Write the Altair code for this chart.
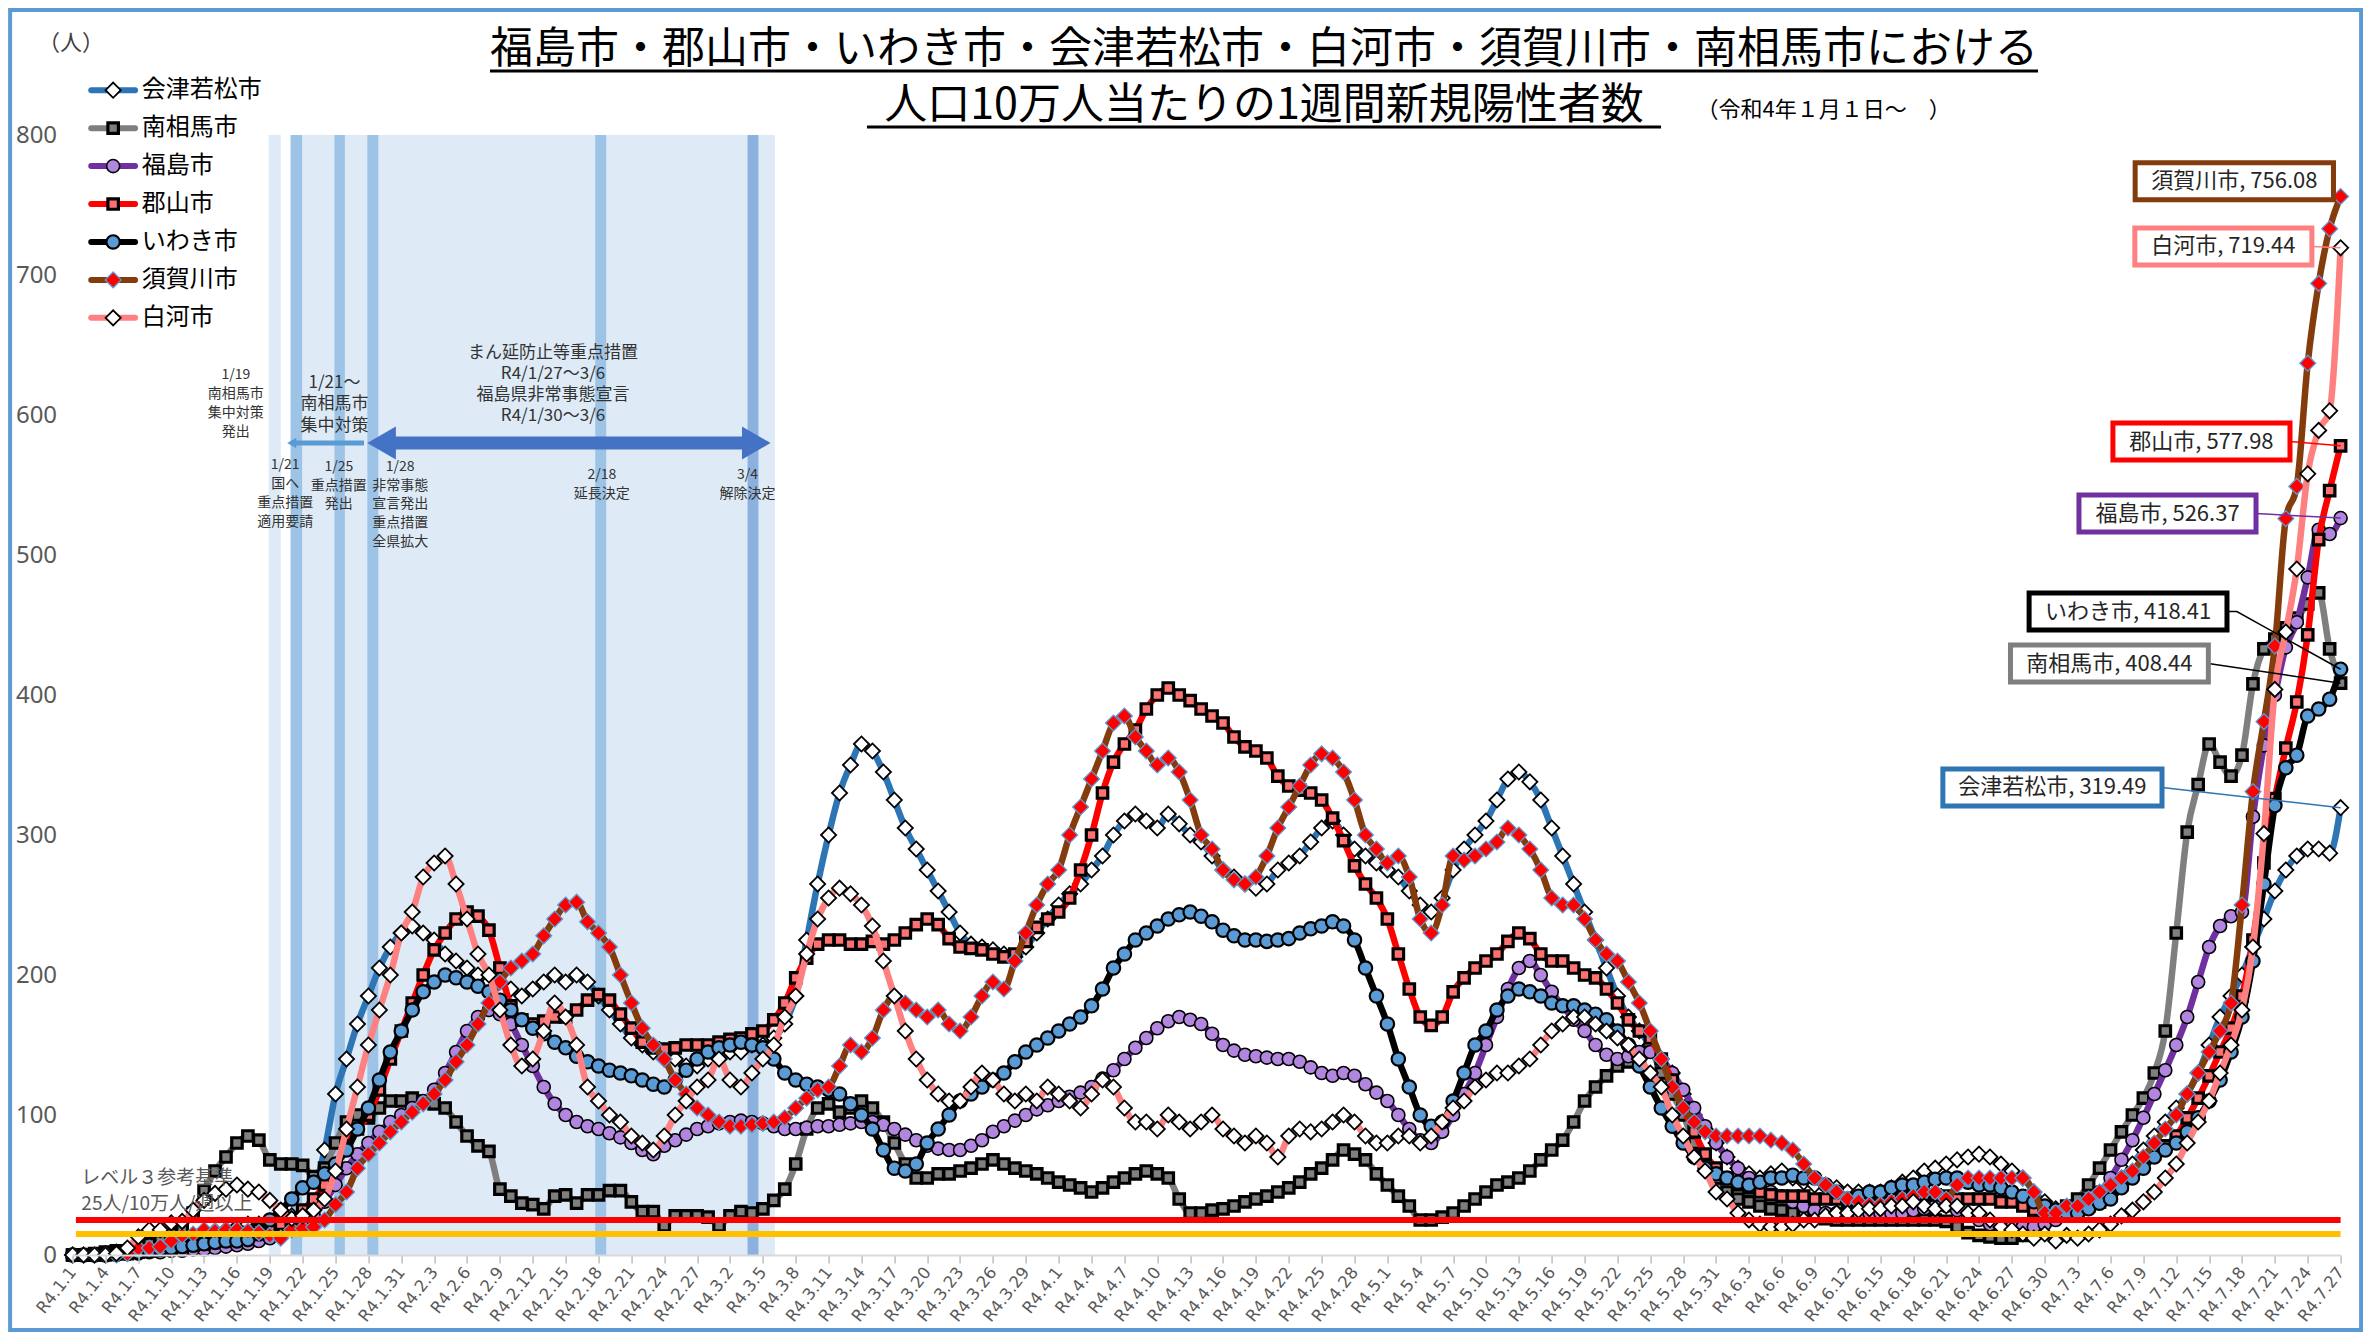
import json
import altair as alt
import pandas as pd

# ---------------- data ----------------
TICK_LABELS = [
    "R4.1.1", "R4.1.4", "R4.1.7", "R4.1.10", "R4.1.13", "R4.1.16", "R4.1.19", "R4.1.22", "R4.1.25", "R4.1.28",
    "R4.1.31", "R4.2.3", "R4.2.6", "R4.2.9", "R4.2.12", "R4.2.15", "R4.2.18", "R4.2.21", "R4.2.24", "R4.2.27",
    "R4.3.2", "R4.3.5", "R4.3.8", "R4.3.11", "R4.3.14", "R4.3.17", "R4.3.20", "R4.3.23", "R4.3.26", "R4.3.29",
    "R4.4.1", "R4.4.4", "R4.4.7", "R4.4.10", "R4.4.13", "R4.4.16", "R4.4.19", "R4.4.22", "R4.4.25", "R4.4.28",
    "R4.5.1", "R4.5.4", "R4.5.7", "R4.5.10", "R4.5.13", "R4.5.16", "R4.5.19", "R4.5.22", "R4.5.25", "R4.5.28",
    "R4.5.31", "R4.6.3", "R4.6.6", "R4.6.9", "R4.6.12", "R4.6.15", "R4.6.18", "R4.6.21", "R4.6.24", "R4.6.27",
    "R4.6.30", "R4.7.3", "R4.7.6", "R4.7.9", "R4.7.12", "R4.7.15", "R4.7.18", "R4.7.21", "R4.7.24", "R4.7.27",
]

SERIES = ["会津若松市", "南相馬市", "福島市", "郡山市", "いわき市", "須賀川市", "白河市"]

AIZU = [
    0, 0, 0, 1, 2, 3, 5, 6, 8, 10,
    12, 13, 15, 17, 18, 20, 22, 22, 24, 26,
    28, 30, 45, 75, 115, 140, 165, 185, 205, 220,
    230, 235, 230, 225, 215, 210, 205, 200, 195, 195,
    190, 185, 190, 195, 200, 195, 200, 195, 185, 175,
    165, 155, 150, 145, 140, 140, 135, 135, 140, 140,
    145, 145, 150, 150, 155, 165, 185, 225, 265, 300,
    330, 350, 365, 360, 345, 325, 305, 290, 275, 260,
    245, 230, 222, 220, 218, 215, 213, 220, 230, 240,
    250, 258, 265, 275, 285, 300, 310, 315, 310, 305,
    315, 308, 300, 295, 285, 275, 270, 265, 262, 265,
    275, 280, 285, 295, 305, 310, 300, 290, 285, 280,
    275, 270, 260, 250, 245, 255, 275, 290, 300, 310,
    325, 340, 345, 338, 325, 305, 285, 265, 245, 225,
    205, 185, 170, 160, 150, 140, 130, 115, 100, 90,
    80, 70, 62, 58, 55, 58, 60, 55, 52, 50,
    50, 48, 45, 45, 45, 45, 48, 52, 55, 60,
    62, 65, 68, 70, 72, 70, 65, 60, 55, 45,
    38, 33, 30, 30, 35, 40, 45, 55, 65, 75,
    85, 95, 105, 115, 130, 150, 170, 185, 200, 220,
    240, 260, 275, 285, 290, 290, 287, 319.49,
]
MINAMISOMA = [
    0, 0, 1, 2, 3, 3, 5, 8, 10, 15,
    20, 30, 46, 60, 70, 80, 85, 82, 68, 65,
    65, 64, 56, 62, 80, 95, 100, 98, 105, 110,
    110, 112, 110, 108, 105, 95, 85, 78, 74, 47,
    42, 37, 36, 33, 42, 43, 37, 43, 43, 46,
    46, 38, 31, 31, 21, 28, 28, 28, 27, 21,
    28, 31, 30, 33, 39, 47, 65, 90, 105, 108,
    102, 105, 110, 105, 95, 80, 65, 55, 55, 58,
    58, 60, 62, 65, 68, 65, 62, 60, 58, 55,
    52, 50, 48, 45, 48, 52, 55, 58, 60, 58,
    55, 40, 30, 30, 32, 33, 35, 38, 40, 42,
    45, 48, 52, 58, 62, 68, 75, 72, 68, 58,
    50, 42, 35, 25, 25, 27, 30, 35, 40, 45,
    50, 52, 55, 60, 68, 75, 82, 95, 110, 120,
    128, 135, 138, 142, 145, 130, 115, 100, 80, 65,
    55, 45, 40, 38, 35, 33, 32, 30, 28, 27,
    26, 25, 25, 25, 25, 25, 25, 25, 25, 25,
    25, 24, 20, 16, 14, 13, 12, 12, 14, 18,
    25, 30, 35, 40, 50, 62, 75, 88, 100, 112,
    130, 160, 230, 302, 336, 365, 352, 342, 357, 408,
    433, 440, 448, 455, 465, 473, 433, 408.44,
]
FUKUSHIMA = [
    0, 0, 0, 0, 0, 1, 1, 2, 2, 3,
    3, 4, 4, 5, 6, 7, 8, 10, 12, 15,
    18, 20, 28, 38, 50, 62, 72, 80, 88, 95,
    100, 105, 110, 118, 130, 145, 160, 170, 175, 172,
    165, 150, 135, 120, 108, 100, 95, 92, 90, 87,
    84, 80, 75, 72, 78, 82, 86, 90, 92, 94,
    95, 96, 95, 94, 92, 90, 90, 91, 92, 92,
    93, 94, 95, 95, 93, 90, 86, 82, 78, 76,
    75, 75, 78, 82, 88, 92, 96, 100, 104, 107,
    110, 113, 116, 120, 126, 132, 140, 148, 155, 162,
    167, 170, 168, 165, 158, 150, 146, 143, 142, 141,
    140, 140, 138, 134, 130, 128, 130, 128, 122, 116,
    110, 100, 90, 82, 80, 88, 100, 115, 130, 150,
    170, 190, 205, 210, 200, 188, 178, 168, 160, 150,
    143, 140, 142, 145, 145, 140, 130, 118, 105, 92,
    80, 70, 62, 55, 50, 45, 42, 38, 35, 32,
    30, 30, 30, 30, 30, 30, 30, 30, 32, 33,
    35, 35, 32, 28, 25, 22, 20, 20, 20, 20,
    22, 25, 28, 32, 38, 45, 55, 68, 82, 98,
    115, 132, 150, 170, 195, 220, 235, 242, 245, 313,
    364, 400, 434, 452, 484, 518, 515, 526.37,
]
KORIYAMA = [
    0, 0, 0, 0, 1, 1, 2, 3, 4, 5,
    6, 7, 8, 10, 12, 14, 16, 18, 20, 22,
    26, 32, 40, 50, 62, 78, 90, 100, 118, 140,
    160, 180, 200, 218, 230, 240, 245, 242, 232, 205,
    178, 168, 165, 167, 170, 170, 175, 182, 186, 182,
    172, 162, 152, 148, 147, 148, 150, 150, 150, 152,
    154, 155, 158, 160, 168, 180, 198, 212, 222, 225,
    225, 222, 222, 224, 222, 225, 230, 236, 240, 236,
    226, 220, 219, 218, 215, 213, 215, 224, 234, 240,
    245, 255, 275, 300, 330, 352, 365, 375, 390, 400,
    405, 400, 396, 390, 385, 380, 370, 363, 360, 355,
    342, 335, 332, 330, 325, 312, 296, 278, 265, 255,
    240, 215, 190, 170, 164, 170, 188, 198, 205, 210,
    215, 224, 230, 226, 215, 210, 210, 205, 200, 198,
    190, 180, 168, 160, 155, 140, 125, 105, 88, 72,
    62, 55, 50, 48, 45, 43, 42, 42, 42, 40,
    40, 40, 38, 38, 40, 40, 40, 42, 42, 43,
    43, 42, 40, 40, 40, 40, 38, 38, 35, 32,
    30, 28, 30, 32, 35, 38, 42, 50, 58, 65,
    72, 78, 85, 98, 112, 128, 145, 162, 185, 225,
    280, 326, 362, 395, 443, 511, 546, 577.98,
]
IWAKI = [
    0, 0, 0, 0, 1, 1, 2, 3, 4, 5,
    6, 7, 8, 9, 10, 10, 11, 15, 25, 32,
    40, 48, 52, 58, 65, 75, 90, 105, 125, 145,
    160, 175, 188, 195, 200, 198, 195, 192, 188, 182,
    175, 168, 162, 158, 152, 148, 142, 138, 135, 132,
    130, 128, 125, 122, 120, 125, 132, 140, 145, 148,
    150, 152, 150, 148, 140, 130, 125, 122, 120, 118,
    115, 108, 100, 90, 75, 62, 60, 65, 80, 90,
    100, 110, 115, 120, 125, 130, 138, 145, 150, 155,
    160, 165, 170, 178, 190, 205, 215, 225, 230, 235,
    240, 243, 245, 242, 238, 232, 228, 225, 225, 224,
    225, 226, 230, 233, 235, 238, 235, 225, 205, 185,
    165, 140, 120, 100, 92, 95, 110, 130, 150, 160,
    175, 185, 190, 188, 185, 180, 178, 178, 175, 172,
    168, 160, 150, 135, 120, 105, 92, 80, 70, 62,
    58, 55, 52, 50, 52, 55, 55, 57, 55, 55,
    50, 45, 40, 42, 45, 45, 48, 50, 50, 52,
    54, 55, 55, 52, 50, 50, 48, 45, 42, 38,
    35, 32, 30, 30, 33, 37, 40, 48, 55, 62,
    70, 75, 80, 88, 98, 110, 125, 145, 170, 210,
    265, 321, 348, 357, 385, 390, 397, 418.41,
]
SUKAGAWA = [
    0, 0, 0, 0, 0, 1, 5, 5, 6, 10,
    14, 15, 18, 17, 18, 18, 17, 16, 14, 12,
    18, 19, 20, 25, 36, 45, 62, 72, 80, 88,
    95, 102, 108, 115, 125, 138, 150, 165, 180, 195,
    205, 210, 215, 228, 240, 250, 252, 238, 230, 220,
    200, 180, 162, 150, 140, 125, 115, 105, 100, 95,
    92, 92, 93, 94, 95, 98, 105, 112, 118, 120,
    135, 150, 145, 155, 175, 185, 180, 175, 170, 175,
    165, 160, 170, 185, 195, 190, 210, 230, 250, 265,
    275, 300, 320, 340, 360, 380, 385, 370, 360, 350,
    355, 345, 325, 300, 290, 275, 268, 265, 270, 285,
    305, 320, 335, 350, 358, 355, 345, 325, 300, 290,
    280, 285, 270, 240, 230, 250, 285, 282, 285, 290,
    295, 305, 300, 290, 275, 255, 250, 250, 240, 225,
    215, 210, 195, 180, 160, 140, 120, 105, 95, 88,
    85, 85, 85, 85, 85, 82, 80, 75, 65, 55,
    50, 45, 40, 38, 36, 36, 38, 40, 42, 45,
    45, 40, 50, 55, 55, 55, 55, 55, 55, 45,
    30, 30, 35, 35, 40, 45, 50, 55, 60, 70,
    80, 90, 100, 115, 130, 145, 160, 180, 250, 331,
    381, 435, 526, 549, 637, 694, 733, 756.08,
]
SHIRAKAWA = [
    0, 0, 0, 0, 1, 5, 13, 18, 18, 23,
    24, 32, 39, 44, 47, 50, 47, 45, 39, 32,
    26, 28, 32, 40, 60, 90, 120, 150, 175, 200,
    230, 245, 270, 280, 285, 265, 240, 215, 200, 175,
    150, 135, 140, 160, 180, 170, 150, 120, 110, 100,
    95, 85, 80, 75, 85, 100, 110, 120, 125, 140,
    125, 120, 130, 140, 150, 170, 185, 215, 240, 255,
    262, 258, 250, 235, 210, 185, 160, 140, 125, 115,
    110, 110, 120, 130, 125, 115, 110, 115, 110, 120,
    115, 110, 105, 115, 125, 120, 105, 95, 95, 90,
    100, 95, 90, 95, 100, 90, 85, 80, 85, 80,
    70, 85, 90, 88, 90, 95, 100, 95, 85, 80,
    80, 85, 85, 80, 85, 95, 105, 110, 120, 125,
    130, 130, 135, 140, 150, 160, 165, 170, 170, 165,
    160, 155, 150, 140, 130, 120, 100, 85, 70, 60,
    45, 40, 30, 25, 22, 20, 20, 22, 25, 25,
    28, 30, 30, 32, 33, 33, 35, 35, 38, 35,
    33, 35, 35, 30, 30, 25, 20, 18, 15, 12,
    15, 10, 14, 12, 15, 18, 22, 28, 32, 38,
    45, 55, 65, 80, 95, 110, 130, 150, 175, 220,
    301, 404, 445, 490, 558, 589, 603, 719.44,
]
VALUES = [AIZU, MINAMISOMA, FUKUSHIMA, KORIYAMA, IWAKI, SUKAGAWA, SHIRAKAWA]

LEVEL3 = 25
LEVEL2 = 15
LEVEL_TEXT = ["レベル３参考基準", "25人/10万人/週以上"]

# ---------------- layout / style ----------------
W, H = 2268, 1120
PAD = {"left": 64.6, "top": 127, "right": 22.4, "bottom": 77}
FONT_JP = "Noto Sans CJK JP"
FONT_NUM = "Noto Sans"
FONT_TICK = "DejaVu Sans"

STYLE = {
    "会津若松市": dict(line="#2e75b6", shape="diamond", fill="#ffffff", stroke="#000000", sw=1.8, size=230),
    "南相馬市": dict(line="#7f7f7f", shape="square", fill="#7f7f7f", stroke="#000000", sw=3.2, size=110),
    "福島市": dict(line="#7030a0", shape="circle", fill="#b286de", stroke="#000000", sw=1.6, size=170),
    "郡山市": dict(line="#ff0000", shape="square", fill="#ff7171", stroke="#000000", sw=3.2, size=110),
    "いわき市": dict(line="#000000", shape="circle", fill="#5b9bd5", stroke="#000000", sw=2.2, size=180),
    "須賀川市": dict(line="#843c0c", shape="diamond", fill="#ff0000", stroke="#5b9bd5", sw=1.3, size=250),
    "白河市": dict(line="#ff8080", shape="diamond", fill="#ffffff", stroke="#000000", sw=1.8, size=230),
}
LINE_W = 6.5

xs = alt.Scale(domain=[0, 207], nice=False, zero=False)
ys = alt.Scale(domain=[0, 800], nice=False, zero=False)

x_axis = alt.Axis(
    values=list(range(0, 208, 3)),
    labelExpr=json.dumps(TICK_LABELS, ensure_ascii=False) + "[round(datum.value/3)]",
    labelAngle=-52, labelAlign="right", labelBaseline="middle",
    labelFontSize=16.5, labelColor="#595959", labelFont=FONT_TICK, labelPadding=6,
    labelOverlap=False, labelFlush=False, labelBound=False,
    tickSize=8, tickColor="#bfbfbf", tickWidth=1.5,
    domainColor="#d9d9d9", domainWidth=2, grid=False, zindex=1, title=None,
)
y_axis = alt.Axis(
    values=list(range(0, 801, 100)), labelFontSize=24, labelColor="#595959",
    labelFont=FONT_NUM, labelPadding=16, domain=False, ticks=False, grid=False, title=None,
)


def X(f):
    return alt.X(f"{f}:Q", scale=xs, axis=x_axis, title=None)


def Y(f):
    return alt.Y(f"{f}:Q", scale=ys, axis=y_axis, title=None)


one = pd.DataFrame({"a": [0]})
layers = []

# frame
layers.append(alt.Chart(one).mark_rect(fill="transparent", stroke="#5b9bd5", strokeWidth=4).encode(
    x=alt.value(-62.5), x2=alt.value(W + 20.5), y=alt.value(-125), y2=alt.value(H + 75)))

# shaded event periods
bands_light = pd.DataFrame({"x1": [17.9, 19.9], "x2": [19.0, 64.1], "y1": [0, 0], "y2": [800, 800]})
bands_dark = pd.DataFrame({"x1": [19.9, 23.9, 26.9, 47.7], "x2": [20.95, 24.85, 27.9, 48.7],
                           "y1": [0] * 4, "y2": [800] * 4})
bands_34 = pd.DataFrame({"x1": [61.6], "x2": [62.6], "y1": [0], "y2": [800]})
for dfb, col in [(bands_light, "#deebf7"), (bands_dark, "#9dc3e6"), (bands_34, "#8cb1de")]:
    layers.append(alt.Chart(dfb).mark_rect(color=col).encode(
        x=X("x1"), x2=alt.X2("x2"), y=Y("y1"), y2=alt.Y2("y2")))

# arrows
arrow_small = pd.DataFrame({"x1": [20.0], "x2": [26.6], "y": [580]})
layers.append(alt.Chart(arrow_small).mark_rule(color="#5b9bd5", strokeWidth=5).encode(
    x=X("x1"), x2=alt.X2("x2"), y=Y("y")))
layers.append(alt.Chart(pd.DataFrame({"x": [20.0], "y": [580]})).mark_point(
    shape="triangle-left", filled=True, color="#5b9bd5", size=110, opacity=1).encode(x=X("x"), y=Y("y")))
arrow_big = pd.DataFrame({"x1": [28.2], "x2": [62.4], "y": [580]})
layers.append(alt.Chart(arrow_big).mark_rule(color="#4472c4", strokeWidth=13).encode(
    x=X("x1"), x2=alt.X2("x2"), y=Y("y")))
for xh, shp in [(28.2, "triangle-left"), (62.4, "triangle-right")]:
    layers.append(alt.Chart(pd.DataFrame({"x": [xh], "y": [580]})).mark_point(
        shape=shp, filled=True, color="#4472c4", size=1089, opacity=1).encode(x=X("x"), y=Y("y")))

# annotation text blocks: (center day, first-line value, line step, font size, lines)
ANN_BLOCKS = [
    (14.9, 628.6, 13.6, 14, ["1/19", "南相馬市", "集中対策", "発出"]),
    (23.9, 623.0, 15.4, 17, ["1/21～", "南相馬市", "集中対策"]),
    (43.85, 644.0, 15.0, 17, ["まん延防止等重点措置", "R4/1/27～3/6", "福島県非常事態宣言", "R4/1/30～3/6"]),
    (19.4, 564.0, 13.4, 14, ["1/21", "国へ", "重点措置", "適用要請"]),
    (24.3, 563.0, 13.4, 14, ["1/25", "重点措置", "発出"]),
    (29.9, 563.0, 13.4, 14, ["1/28", "非常事態", "宣言発出", "重点措置", "全県拡大"]),
    (48.3, 557.0, 13.4, 14, ["2/18", "延長決定"]),
    (61.6, 557.0, 13.4, 14, ["3/4", "解除決定"]),
]
ann_rows = []
for cx, y0, dy, fs, lines in ANN_BLOCKS:
    for i, t in enumerate(lines):
        ann_rows.append({"x": cx, "y": y0 - i * dy, "t": t, "fs": fs})
ann = pd.DataFrame(ann_rows)
for fs in sorted(ann.fs.unique()):
    layers.append(alt.Chart(ann[ann.fs == fs]).mark_text(
        font=FONT_JP, fontSize=int(fs), color="#333333", align="center", baseline="middle").encode(
        x=X("x"), y=Y("y"), text="t:N"))

# series
for name, vals in zip(SERIES, VALUES):
    st = STYLE[name]
    dfs = pd.DataFrame({"d": list(range(len(vals))), "v": vals})
    layers.append(alt.Chart(dfs).mark_line(color=st["line"], strokeWidth=LINE_W, interpolate="monotone",
                                           strokeJoin="round").encode(x=X("d"), y=Y("v")))
    layers.append(alt.Chart(dfs).mark_point(shape=st["shape"], filled=True, fill=st["fill"], stroke=st["stroke"],
                                            strokeWidth=st["sw"], size=st["size"], opacity=1,
                                            fillOpacity=1, strokeOpacity=1).encode(x=X("d"), y=Y("v")))

# level lines
for lv, col in [(LEVEL3, "#ff0000"), (LEVEL2, "#ffc000")]:
    layers.append(alt.Chart(pd.DataFrame({"x1": [0.3], "x2": [207], "y": [lv]})).mark_rule(
        strokeWidth=6, color=col).encode(x=X("x1"), x2=alt.X2("x2"), y=Y("y")))
layers.append(alt.Chart(pd.DataFrame({"x": [0.8, 0.8], "y": [55, 36.4], "t": LEVEL_TEXT})).mark_text(
    font=FONT_JP, fontSize=19, color="#595959", align="left", baseline="middle").encode(
    x=X("x"), y=Y("y"), text="t:N"))

# legend (rows in data space, top-left)
LEG_X1, LEG_X2, LEG_XM, LEG_XT, LEG_Y0, LEG_DY = 1.7, 5.7, 3.7, 6.3, 832, 27.1
for i, name in enumerate(SERIES):
    st = STYLE[name]
    dl = pd.DataFrame({"x1": [LEG_X1], "x2": [LEG_X2], "xm": [LEG_XM], "xt": [LEG_XT],
                       "y": [LEG_Y0 - i * LEG_DY], "s": [name]})
    layers.append(alt.Chart(dl).mark_rule(color=st["line"], strokeWidth=6, strokeCap="round").encode(
        x=X("x1"), x2=alt.X2("x2"), y=Y("y")))
    layers.append(alt.Chart(dl).mark_point(shape=st["shape"], filled=True, fill=st["fill"], stroke=st["stroke"],
                                           strokeWidth=st["sw"], size=st["size"], opacity=1).encode(
        x=X("xm"), y=Y("y")))
    layers.append(alt.Chart(dl).mark_text(font=FONT_JP, fontSize=24, color="#000000", align="left",
                                          baseline="middle").encode(x=X("xt"), y=Y("y"), text="s:N"))

# data labels for the last day
LBL = {  # name: (box centre day, box centre value, half width in days)
    "須賀川市": (197.3, 767.0, 9.05),
    "白河市": (196.3, 720.4, 8.08),
    "郡山市": (194.3, 581.0, 8.08),
    "福島市": (191.2, 529.6, 8.08),
    "いわき市": (187.6, 459.6, 9.03),
    "南相馬市": (185.9, 422.5, 9.03),
    "会津若松市": (180.7, 334.0, 10.0),
}
LEADER_COL = {"白河市": "#ff8080", "郡山市": "#ff0000", "福島市": "#7030a0", "いわき市": "#000000",
              "南相馬市": "#000000", "会津若松市": "#2e75b6"}
HH = 13.2
last = {n: v[-1] for n, v in zip(SERIES, VALUES)}
for n, col in LEADER_COL.items():
    cx, cy, hw = LBL[n]
    pts = [(cx + hw, cy)]
    if n == "いわき市":
        pts.append((cx + hw + 0.9, cy))
    pts.append((207, last[n]))
    dlead = pd.DataFrame({"o": list(range(len(pts))), "x": [p[0] for p in pts], "y": [p[1] for p in pts]})
    layers.append(alt.Chart(dlead).mark_line(strokeWidth=1.5, color=col).encode(
        x=X("x"), y=Y("y"), order="o:Q"))

for n, (cx, cy, hw) in LBL.items():
    db = pd.DataFrame({"x1": [cx - hw], "x2": [cx + hw], "y1": [cy - HH], "y2": [cy + HH], "cx": [cx], "cy": [cy],
                       "t": [f"{n}, {last[n]:.2f}"]})
    layers.append(alt.Chart(db).mark_rect(fill="#ffffff", stroke=STYLE[n]["line"], strokeWidth=5).encode(
        x=X("x1"), x2=alt.X2("x2"), y=Y("y1"), y2=alt.Y2("y2")))
    layers.append(alt.Chart(db).mark_text(font=FONT_JP, fontSize=22, color="#262626", align="center",
                                          baseline="middle").encode(x=X("cx"), y=Y("cy"), text="t:N"))

# titles (pixel positions relative to plot origin)
TITLE1 = "福島市・郡山市・いわき市・会津若松市・白河市・須賀川市・南相馬市における"
TITLE2 = "人口10万人当たりの1週間新規陽性者数"
SUB = "（令和4年１月１日～　）"
UNIT = "（人）"


def ptext(txt, x, y, size, align="center", weight="normal", color="#000000"):
    return alt.Chart(pd.DataFrame({"t": [txt]})).mark_text(
        align=align, baseline="middle", fontSize=size, font=FONT_JP, fontWeight=weight, color=color).encode(
        x=alt.value(x), y=alt.value(y), text="t:N")


def prule(x1, x2, y, w, color="#000000"):
    return alt.Chart(one).mark_rule(color=color, strokeWidth=w).encode(
        x=alt.value(x1), x2=alt.value(x2), y=alt.value(y))


TC = 1191.4
layers.append(ptext(TITLE1, TC, -85, 43))
layers.append(prule(TC - 774, TC + 774, -64, 3))
layers.append(ptext(TITLE2, TC, -29, 43))
layers.append(prule(TC - 397, TC + 397, -8, 3))
layers.append(ptext(SUB, 1624, -25, 22, align="left"))
layers.append(ptext(UNIT, -1.6, -92, 22, color="#404040"))

chart = alt.layer(*layers).properties(
    width=W, height=H, padding=PAD, autosize=alt.AutoSizeParams(type="none"),
    background="#ffffff",
).configure_view(stroke="transparent")

chart.save("out.html", embed_options={"renderer": "svg", "actions": False})
